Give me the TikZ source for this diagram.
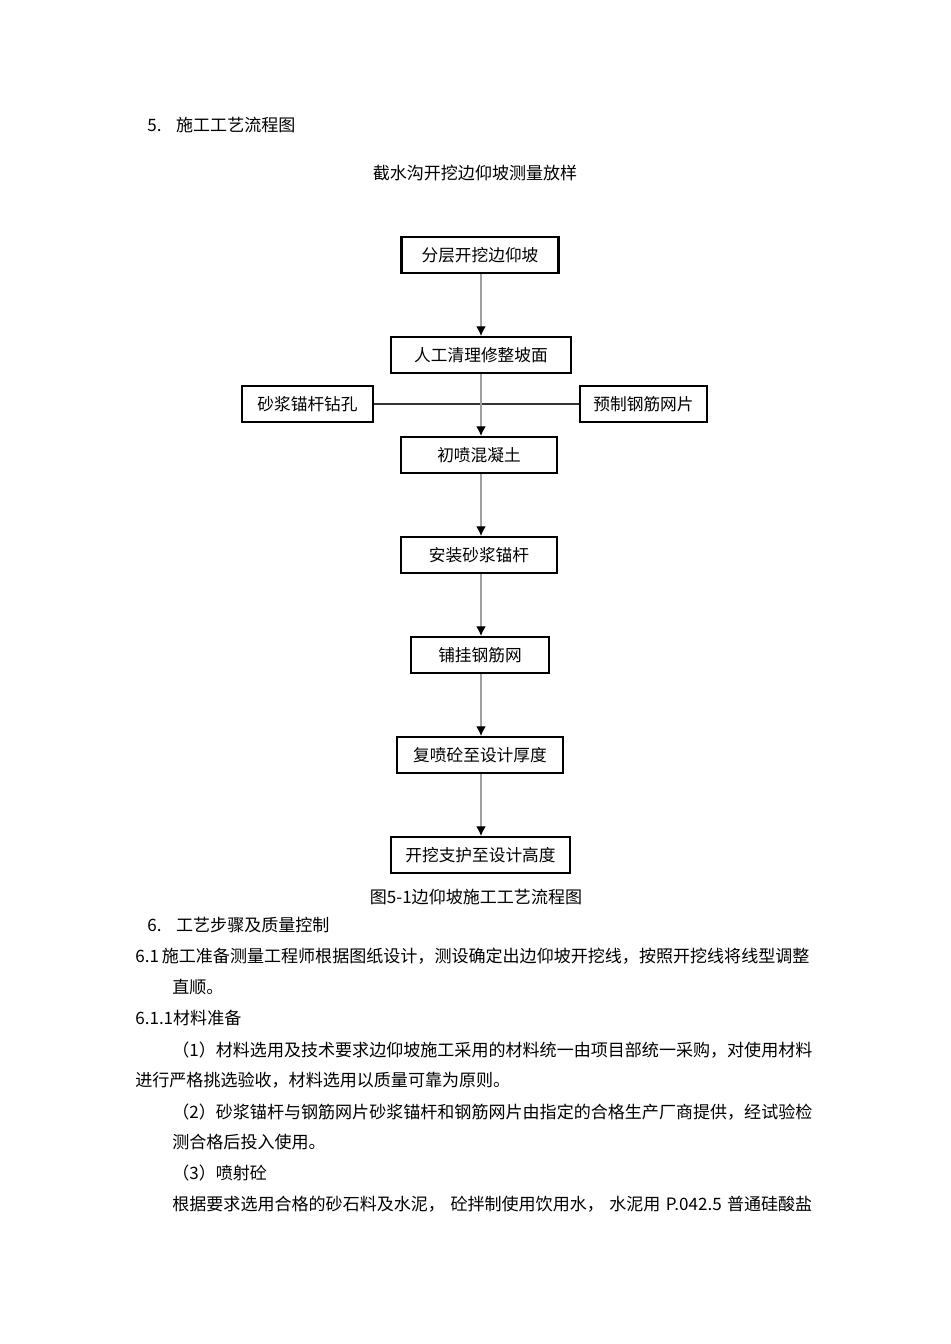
\documentclass[tikz,border=0pt]{standalone}
\usepackage{fontspec}
\setmainfont{Noto Sans CJK SC}
\usetikzlibrary{arrows.meta,positioning}

\tikzset{
  stepbox/.style={draw, line width=1.2pt, minimum height=0.72cm, inner sep=0pt,
    font=\fontsize{9.5}{11}\selectfont},
  flowline/.style={draw=gray!75, line width=0.6pt, -{Latex[black,length=5.5pt,width=5.5pt]}},
  bodytext/.style={anchor=west, inner sep=0pt, font=\fontsize{9.7}{12}\selectfont},
}

\begin{document}
\begin{tikzpicture}[x=0.02cm, y=-0.02cm]
\useasboundingbox (0,0) rectangle (950,1344);

% headings above the chart
\node[bodytext] (sec5) at (147,125) {\makebox[16.4pt][l]{5.}施工工艺流程图};
\node[bodytext, anchor=center] (survey) at (475,173) {截水沟开挖边仰坡测量放样};

% flow chart
\node[stepbox, minimum width=3.14cm] (layer) at (480,255) {分层开挖边仰坡};
\node[stepbox, minimum width=3.6cm] (clean) at (481,355) {人工清理修整坡面};
\node[stepbox, minimum width=2.62cm] (drill) at (307.5,404) {砂浆锚杆钻孔};
\node[stepbox, minimum width=2.54cm] (mesh) at (643.5,404) {预制钢筋网片};
\node[stepbox, minimum width=3.12cm] (spray) at (479,455) {初喷混凝土};
\node[stepbox, minimum width=3.12cm] (bolt) at (479,555) {安装砂浆锚杆};
\node[stepbox, minimum width=2.76cm] (hang) at (480,655) {铺挂钢筋网};
\node[stepbox, minimum width=3.32cm] (respray) at (480,755) {复喷砼至设计厚度};
\node[stepbox, minimum width=3.58cm] (excav) at (480.5,855) {开挖支护至设计高度};

\draw[draw=black!80, line width=0.7pt] (drill.east) -- (mesh.west);
\draw[flowline] (layer.south -| clean.south) -- (clean.north);
\draw[flowline] (clean.south) -- (clean.south |- spray.north);
\draw[flowline] (clean.south |- spray.south) -- (clean.south |- bolt.north);
\draw[flowline] (clean.south |- bolt.south) -- (clean.south |- hang.north);
\draw[flowline] (clean.south |- hang.south) -- (clean.south |- respray.north);
\draw[flowline] (clean.south |- respray.south) -- (clean.south |- excav.north);

\node[bodytext, anchor=center] (caption) at (476,897) {图5-1边仰坡施工工艺流程图};

% text below the chart
\node[bodytext] (sec6) at (147,925) {\makebox[16.4pt][l]{6.}工艺步骤及质量控制};
\node[bodytext] (l1) at (135,956) {6.1\,施工准备测量工程师根据图纸设计，测设确定出边仰坡开挖线，按照开挖线将线型调整};
\node[bodytext] (l2) at (172,987) {直顺。};
\node[bodytext] (l3) at (135,1018) {6.1.1材料准备};
\node[bodytext] (l4) at (172,1050) {（1）材料选用及技术要求边仰坡施工采用的材料统一由项目部统一采购，对使用材料};
\node[bodytext] (l5) at (135,1080) {进行严格挑选验收，材料选用以质量可靠为原则。};
\node[bodytext] (l6) at (172,1112) {（2）砂浆锚杆与钢筋网片砂浆锚杆和钢筋网片由指定的合格生产厂商提供，经试验检};
\node[bodytext] (l7) at (172,1142) {测合格后投入使用。};
\node[bodytext] (l8) at (172,1173) {（3）喷射砼};
\node[bodytext] (l9) at (172,1204) {\makebox[12.8cm][s]{根据要求选用合格的砂石料及水泥，\hfil 砼拌制使用饮用水，\hfil 水泥用\hspace{3pt}P.042.5\hspace{3pt}普通硅酸盐}};

\end{tikzpicture}
\end{document}
